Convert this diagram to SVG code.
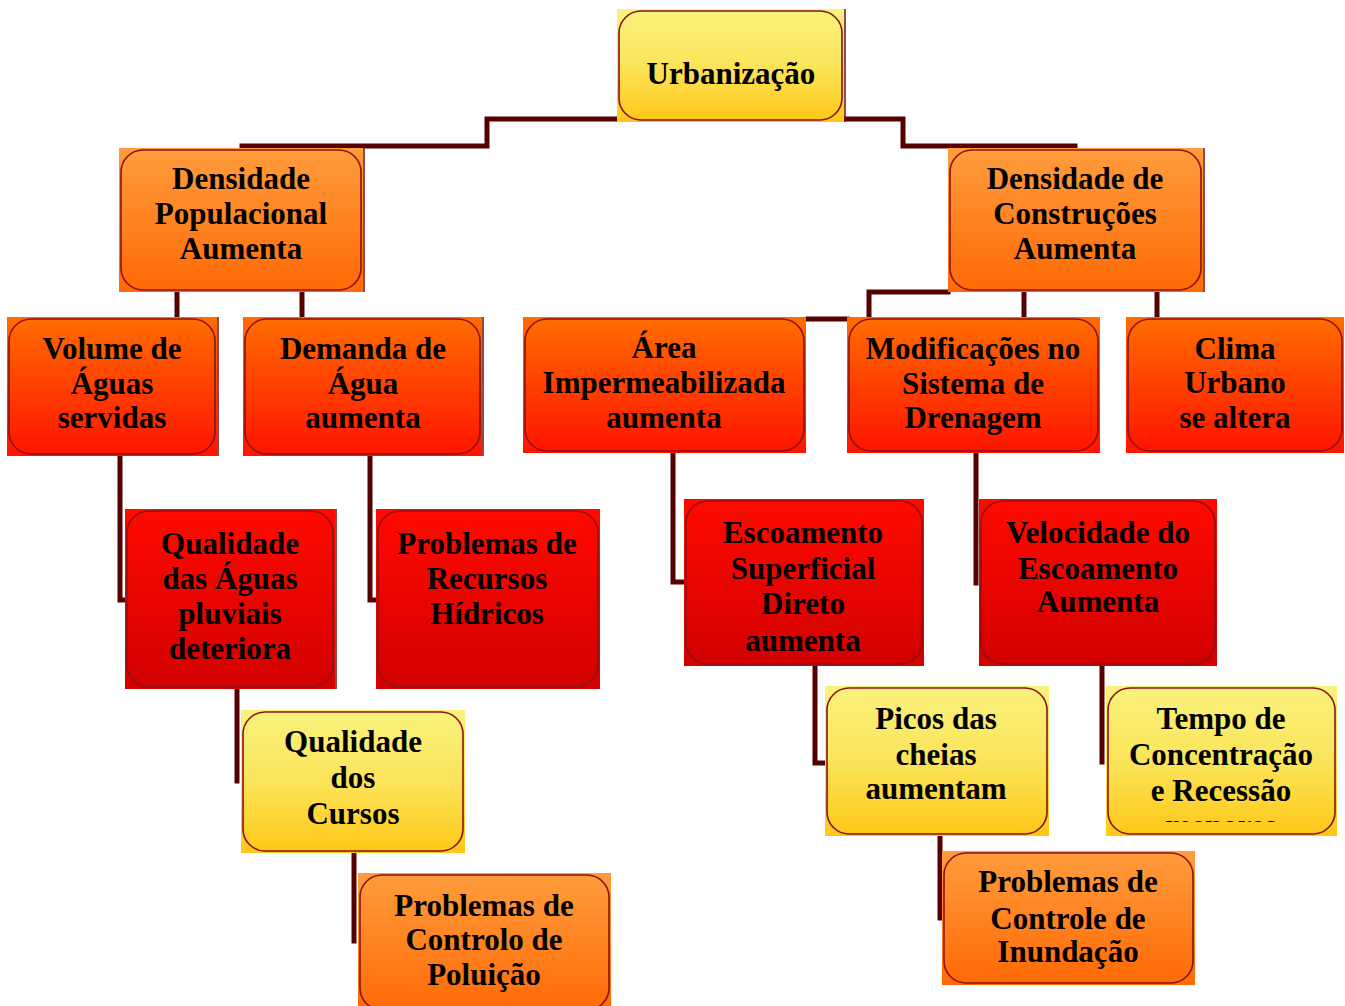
<svg xmlns="http://www.w3.org/2000/svg" width="1345" height="1006" viewBox="0 0 1345 1006">
<defs>
<linearGradient id="gY" x1="0" y1="0" x2="0" y2="1"><stop offset="0" stop-color="#f9f27c"/><stop offset="0.5" stop-color="#fbe45a"/><stop offset="1" stop-color="#ffc818"/></linearGradient>
<linearGradient id="gO" x1="0" y1="0" x2="0" y2="1"><stop offset="0" stop-color="#ff9c3c"/><stop offset="1" stop-color="#ff6a06"/></linearGradient>
<linearGradient id="gR1" x1="0" y1="0" x2="0" y2="1"><stop offset="0" stop-color="#ff6c00"/><stop offset="1" stop-color="#ff1400"/></linearGradient>
<linearGradient id="gR2" x1="0" y1="0" x2="0" y2="1"><stop offset="0" stop-color="#ff0a00"/><stop offset="1" stop-color="#d20000"/></linearGradient>
<clipPath id="clipTempo"><rect x="1106" y="686" width="231" height="136"/></clipPath>
</defs>
<style>
.sh{fill:#6e0c0c;opacity:0.75}
.bx{stroke:#8a1414;stroke-width:1.6}
.t{font-family:"Liberation Serif","Times New Roman",serif;font-weight:bold;font-size:31px;fill:#000;text-anchor:middle}
.c{fill:none;stroke:#560000;stroke-width:5;stroke-linecap:square}
</style>
<g id="connectors">
<polyline class="c" points="617,119 487,119 487,146 242,146"/>
<polyline class="c" points="844,119 903,119 903,146 1075,146"/>
<line class="c" x1="177" y1="292" x2="177" y2="317"/>
<line class="c" x1="302" y1="292" x2="302" y2="317"/>
<polyline class="c" points="948,292 869,292 869,318"/>
<line class="c" x1="808" y1="319" x2="847" y2="319"/>
<line class="c" x1="1024" y1="292" x2="1024" y2="317"/>
<line class="c" x1="1157" y1="292" x2="1157" y2="317"/>
<polyline class="c" points="120,456 120,600 125,600"/>
<polyline class="c" points="370,456 370,600 376,600"/>
<polyline class="c" points="673,453 673,582 684,582"/>
<line class="c" x1="976" y1="453" x2="976" y2="583"/>
<line class="c" x1="237" y1="689" x2="237" y2="781"/>
<polyline class="c" points="815,666 815,763 825,763"/>
<line class="c" x1="1102" y1="666" x2="1102" y2="762"/>
<line class="c" x1="354" y1="853" x2="354" y2="941"/>
<line class="c" x1="940" y1="836" x2="940" y2="918"/>
</g>
<g id="n1"><rect class="sh" x="619" y="9" width="227" height="113"/><rect x="617" y="9" width="227" height="113" fill="url(#gY)"/><rect class="bx" x="619" y="11" width="223" height="109" rx="22" fill="url(#gY)"/>
<text class="t" x="731" y="84">Urbanização</text></g>
<g id="n2"><rect class="sh" x="121" y="148" width="244" height="144"/><rect x="119" y="148" width="244" height="144" fill="url(#gO)"/><rect class="bx" x="121" y="150" width="240" height="140" rx="22" fill="url(#gO)"/>
<text class="t" x="241" y="189">Densidade</text><text class="t" x="241" y="224">Populacional</text><text class="t" x="241" y="259">Aumenta</text></g>
<g id="n3"><rect class="sh" x="950" y="148" width="255" height="144"/><rect x="948" y="148" width="255" height="144" fill="url(#gO)"/><rect class="bx" x="950" y="150" width="251" height="140" rx="22" fill="url(#gO)"/>
<text class="t" x="1075" y="189">Densidade de</text><text class="t" x="1075" y="224">Construções</text><text class="t" x="1075" y="259">Aumenta</text></g>
<g id="n4"><rect class="sh" x="9" y="317" width="210" height="139"/><rect x="7" y="317" width="210" height="139" fill="url(#gR1)"/><rect class="bx" x="9" y="319" width="206" height="135" rx="22" fill="url(#gR1)"/>
<text class="t" x="112" y="359">Volume de</text><text class="t" x="112" y="394">Águas</text><text class="t" x="112" y="428">servidas</text></g>
<g id="n5"><rect class="sh" x="245" y="317" width="239" height="139"/><rect x="243" y="317" width="239" height="139" fill="url(#gR1)"/><rect class="bx" x="245" y="319" width="235" height="135" rx="22" fill="url(#gR1)"/>
<text class="t" x="363" y="359">Demanda de</text><text class="t" x="363" y="394">Água</text><text class="t" x="363" y="428">aumenta</text></g>
<g id="n6"><rect x="523" y="317" width="283" height="136" fill="url(#gR1)"/><rect class="bx" x="525" y="319" width="279" height="132" rx="22" fill="url(#gR1)"/>
<text class="t" x="664" y="358">Área</text><text class="t" x="664" y="393">Impermeabilizada</text><text class="t" x="664" y="428">aumenta</text></g>
<g id="n7"><rect x="847" y="317" width="253" height="136" fill="url(#gR1)"/><rect class="bx" x="849" y="319" width="249" height="132" rx="22" fill="url(#gR1)"/>
<text class="t" x="973" y="359">Modificações no</text><text class="t" x="973" y="394">Sistema de</text><text class="t" x="973" y="428">Drenagem</text></g>
<g id="n8"><rect x="1126" y="317" width="218" height="136" fill="url(#gR1)"/><rect class="bx" x="1128" y="319" width="214" height="132" rx="22" fill="url(#gR1)"/>
<text class="t" x="1235" y="359">Clima</text><text class="t" x="1235" y="393">Urbano</text><text class="t" x="1235" y="428">se altera</text></g>
<g id="n9"><rect class="sh" x="127" y="509" width="210" height="180"/><rect x="125" y="509" width="210" height="180" fill="url(#gR2)"/><rect class="bx" x="127" y="511" width="206" height="176" rx="22" fill="url(#gR2)"/>
<text class="t" x="230" y="554">Qualidade</text><text class="t" x="230" y="589">das Águas</text><text class="t" x="230" y="624">pluviais</text><text class="t" x="230" y="659">deteriora</text></g>
<g id="n10"><rect x="376" y="509" width="224" height="180" fill="url(#gR2)"/><rect class="bx" x="378" y="511" width="220" height="176" rx="22" fill="url(#gR2)"/>
<text class="t" x="487" y="554">Problemas de</text><text class="t" x="487" y="589">Recursos</text><text class="t" x="487" y="624">Hídricos</text></g>
<g id="n11"><rect x="684" y="499" width="240" height="167" fill="url(#gR2)"/><rect class="bx" x="686" y="501" width="236" height="163" rx="22" fill="url(#gR2)"/>
<text class="t" x="803" y="543">Escoamento</text><text class="t" x="803" y="579">Superficial</text><text class="t" x="803" y="614">Direto</text><text class="t" x="803" y="651">aumenta</text></g>
<g id="n12"><rect x="979" y="499" width="238" height="167" fill="url(#gR2)"/><rect class="bx" x="981" y="501" width="234" height="163" rx="22" fill="url(#gR2)"/>
<text class="t" x="1098" y="543">Velocidade do</text><text class="t" x="1098" y="579">Escoamento</text><text class="t" x="1098" y="612">Aumenta</text></g>
<g id="n13"><rect x="241" y="710" width="224" height="143" fill="url(#gY)"/><rect class="bx" x="243" y="712" width="220" height="139" rx="22" fill="url(#gY)"/>
<text class="t" x="353" y="752">Qualidade</text><text class="t" x="353" y="788">dos</text><text class="t" x="353" y="824">Cursos</text></g>
<g id="n14"><rect x="825" y="686" width="224" height="150" fill="url(#gY)"/><rect class="bx" x="827" y="688" width="220" height="146" rx="22" fill="url(#gY)"/>
<text class="t" x="936" y="729">Picos das</text><text class="t" x="936" y="765">cheias</text><text class="t" x="936" y="799">aumentam</text></g>
<g id="n15"><rect x="1106" y="686" width="231" height="150" fill="url(#gY)"/><rect class="bx" x="1108" y="688" width="227" height="146" rx="22" fill="url(#gY)"/>
<g clip-path="url(#clipTempo)"><text class="t" x="1221" y="729">Tempo de</text><text class="t" x="1221" y="765">Concentração</text><text class="t" x="1221" y="801">e Recessão</text><text class="t" x="1221" y="836">menores</text></g></g>
<g id="n16"><rect x="358" y="873" width="253" height="133" fill="url(#gO)"/><rect class="bx" x="360" y="875" width="249" height="135" rx="22" fill="url(#gO)"/>
<text class="t" x="484" y="916">Problemas de</text><text class="t" x="484" y="950">Controlo de</text><text class="t" x="484" y="985">Poluição</text></g>
<g id="n17"><rect x="942" y="851" width="253" height="134" fill="url(#gO)"/><rect class="bx" x="944" y="853" width="249" height="130" rx="22" fill="url(#gO)"/>
<text class="t" x="1068" y="892">Problemas de</text><text class="t" x="1068" y="929">Controle de</text><text class="t" x="1068" y="962">Inundação</text></g>
</svg>
